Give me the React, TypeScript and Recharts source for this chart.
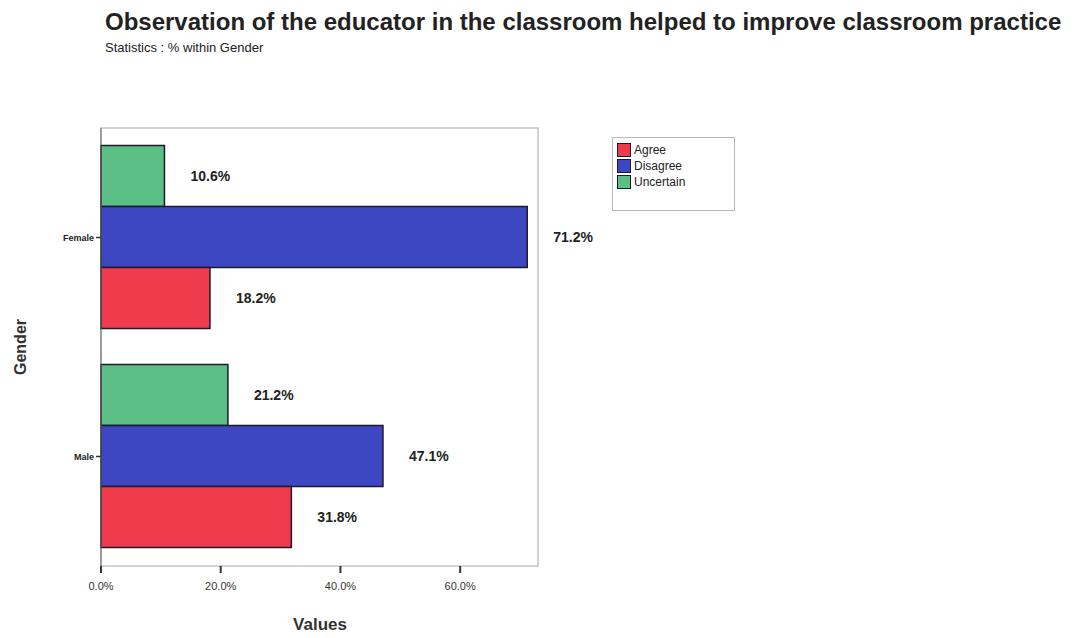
import React from 'react';
import {
  BarChart,
  Bar,
  XAxis,
  YAxis,
  LabelList,
  ReferenceArea
} from 'recharts';

const genders = ['Female', 'Male'];
const agreeValues = [18.2, 31.8];
const disagreeValues = [71.2, 47.1];
const uncertainValues = [10.6, 21.2];
const xTicks = [0, 20, 40, 60];

// top-to-bottom order inside each gender group
const barSeries = [
  { key: 'Uncertain', color: '#5CBF86' },
  { key: 'Disagree', color: '#3D47C2' },
  { key: 'Agree', color: '#EF3B4C' }
];
const legendOrder = ['Agree', 'Disagree', 'Uncertain'];

const data = genders.map((gender, i) => ({
  gender,
  Agree: agreeValues[i],
  Disagree: disagreeValues[i],
  Uncertain: uncertainValues[i]
}));

const FONT = '"Liberation Sans", Arial, sans-serif';

const pct = (v: number) => `${Number(v).toFixed(1)}%`;

const App: React.FC = () => {
  const colorOf = (key: string) => barSeries.find((s) => s.key === key)!.color;

  return (
    <div
      style={{
        position: 'relative',
        width: 1085,
        height: 638,
        margin: -8,
        background: '#FFFFFF',
        fontFamily: FONT,
        overflow: 'hidden'
      }}
    >
      <div
        style={{
          position: 'absolute',
          left: 105,
          top: 10,
          fontSize: 24,
          lineHeight: 1,
          fontWeight: 'bold',
          color: '#222',
          whiteSpace: 'nowrap'
        }}
      >
        Observation of the educator in the classroom helped to improve classroom practice
      </div>
      <div
        style={{
          position: 'absolute',
          left: 105,
          top: 41,
          fontSize: 13,
          lineHeight: 1,
          color: '#222',
          whiteSpace: 'nowrap'
        }}
      >
        Statistics : % within Gender
      </div>

      <BarChart
        width={1085}
        height={638}
        data={data}
        layout="vertical"
        margin={{ top: 128, right: 547, bottom: 42, left: 41 }}
        barGap={0}
        barCategoryGap="8%"
        style={{ position: 'absolute', left: 0, top: 0 }}
      >
        <XAxis
          type="number"
          domain={[0, 73]}
          ticks={xTicks}
          tickFormatter={pct}
          height={30}
          axisLine={false}
          tickSize={7}
          tickLine={{ stroke: '#333', strokeWidth: 2 }}
          tick={{ fill: '#333', fontSize: 11, fontFamily: FONT, dy: 7 }}
        />
        <YAxis
          type="category"
          dataKey="gender"
          width={60}
          tickSize={5}
          axisLine={{ stroke: '#666' }}
          tickLine={{ stroke: '#333', strokeWidth: 1.5 }}
          tick={{ fill: '#222', fontSize: 9, fontWeight: 'bold', fontFamily: FONT }}
        />
        <ReferenceArea x1={0} x2={73} fill="none" stroke="#C4C4C4" strokeWidth={1.5} />
        {barSeries.map((s) => (
          <Bar
            key={s.key}
            dataKey={s.key}
            fill={s.color}
            stroke="#1B1B2A"
            strokeWidth={1.5}
            isAnimationActive={false}
          >
            <LabelList
              dataKey={s.key}
              position="right"
              offset={26}
              formatter={(v: number) => pct(v)}
              style={{ fill: '#222', fontSize: 14, fontWeight: 'bold', fontFamily: FONT }}
            />
          </Bar>
        ))}
      </BarChart>

      {/* axis titles */}
      <div
        style={{
          position: 'absolute',
          left: 320,
          top: 625,
          transform: 'translate(-50%, -50%)',
          fontSize: 17,
          fontWeight: 'bold',
          color: '#333'
        }}
      >
        Values
      </div>
      <div
        style={{
          position: 'absolute',
          left: 21,
          top: 347,
          transform: 'translate(-50%, -50%) rotate(-90deg)',
          fontSize: 16,
          fontWeight: 'bold',
          color: '#333'
        }}
      >
        Gender
      </div>

      {/* legend */}
      <div
        style={{
          position: 'absolute',
          left: 612,
          top: 137,
          width: 123,
          padding: '4px 4px 20px 4px',
          border: '1px solid #B8B8B8',
          background: '#FFFFFF',
          fontSize: 12,
          color: '#222',
          boxSizing: 'border-box'
        }}
      >
        {legendOrder.map((key) => (
          <div key={key} style={{ display: 'flex', alignItems: 'center', height: 16 }}>
            <span
              style={{
                display: 'inline-block',
                width: 12,
                height: 12,
                marginRight: 3,
                background: colorOf(key),
                border: '1px solid #1B1B2A'
              }}
            />
            {key}
          </div>
        ))}
      </div>
    </div>
  );
};

export default App;
